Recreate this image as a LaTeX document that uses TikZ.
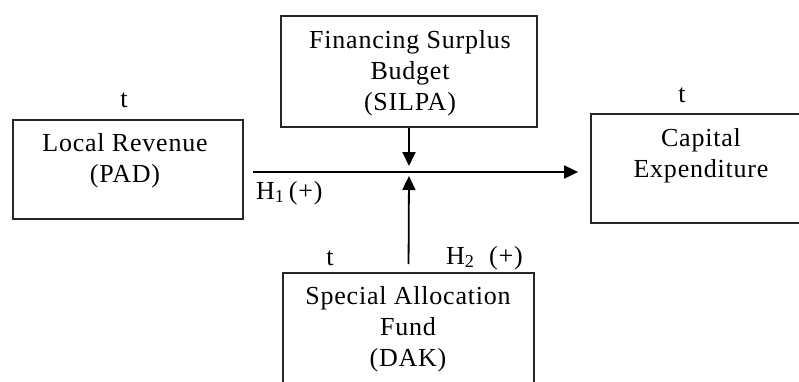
\documentclass[tikz,border=0pt]{standalone}
\usepackage{fontspec}
\setmainfont{Liberation Serif}[LetterSpace=3]
\usetikzlibrary{arrows.meta,positioning}

\begin{document}
\begin{tikzpicture}[
    x=1pt, y=-1pt,
    font=\fontsize{26}{31}\selectfont,
    box/.style={
        draw=black!85,
        line width=1.8pt,
        inner sep=0pt
    },
    txt/.style={
        align=center,
        inner sep=0pt
    },
    arr/.style={-{Triangle[length=14pt,width=13pt]}, line width=1.8pt}
]
\useasboundingbox (0,0) rectangle (799,381);

% boxes
\node[box, minimum width=230pt, minimum height=99pt] (pad) at (128,169.5) {};
\node[box, minimum width=256pt, minimum height=111pt] (silpa) at (409,71.5) {};
\node[box, minimum width=219pt, minimum height=109pt] (capex) at (700.5,168.5) {};
\node[box, minimum width=251pt, minimum height=130pt] (dak) at (408.5,338) {};

% box texts
\node[txt] (padtxt) at (125,161) {Local Revenue\\(PAD)};
\node[txt] (silpatxt) at (410,73) {Financing Surplus\\Budget\\(SILPA)};
\node[txt] (capextxt) at (701,156) {Capital\\Expenditure};
\node[txt] (daktxt) at (408,329) {Special Allocation\\Fund\\(DAK)};

% time marks and hypotheses
\node[txt] (tpad) at (124,100) {t};
\node[txt] (tcapex) at (682,95) {t};
\node[txt] (tdak) at (330,258) {t};
\node[txt, anchor=west] (hone) at (256,193) {H\textsubscript{1}\,(+)};
\node[txt, anchor=west] (htwo) at (446,258) {H\textsubscript{2}~~(+)};

% connectors
\coordinate (hit) at ([yshift=-2.5pt]pad.east -| silpa.south);
\draw[arr, shorten <=9pt, shorten >=12pt] ([yshift=-2.5pt]pad.east) -- ([yshift=-2.5pt]pad.east -| capex.west);
\draw[arr, shorten >=6pt] (silpa.south) -- (hit);
\draw[arr, shorten <=8pt, shorten >=4pt] (dak.north) -- (hit);

\end{tikzpicture}
\end{document}
